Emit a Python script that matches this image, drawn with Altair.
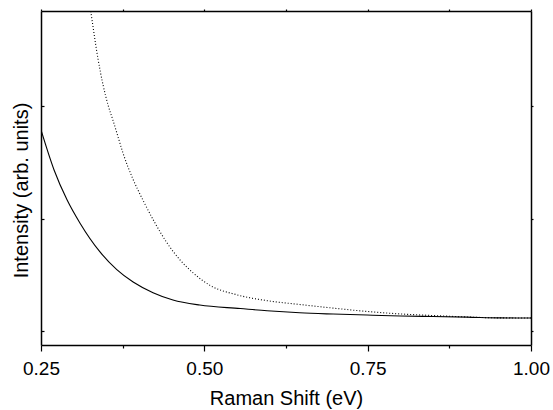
import altair as alt
import pandas as pd

# Solid curve (Raman shift in eV, intensity arb. units)
solid_x = [0.25, 0.27, 0.29, 0.31, 0.34, 0.366, 0.391, 0.4215, 0.452, 0.493,
           0.555, 0.596, 0.646, 0.697, 0.749, 0.80, 0.85, 0.902, 0.953, 1.00]
solid_y = [1.787, 1.431, 1.164, 0.956, 0.705, 0.546, 0.436, 0.341, 0.276, 0.231,
           0.200, 0.180, 0.162, 0.151, 0.142, 0.134, 0.129, 0.124, 0.117, 0.116]

# Dotted curve
dotted_x = [0.322, 0.3265, 0.337, 0.345, 0.3526, 0.36, 0.368, 0.3755, 0.39,
            0.406, 0.4245, 0.443, 0.463, 0.483, 0.509, 0.55, 0.596, 0.646,
            0.697, 0.749, 0.80, 0.85, 0.902, 0.953, 1.00]
dotted_y = [3.0, 2.827, 2.427, 2.187, 2.009, 1.876, 1.724, 1.582, 1.36,
            1.164, 0.96, 0.782, 0.631, 0.516, 0.405, 0.322, 0.270, 0.236,
            0.204, 0.174, 0.152, 0.138, 0.125, 0.117, 0.116]

x_major = [0.25, 0.50, 0.75, 1.00]
x_minor = [0.375, 0.625, 0.875]
x_all = [0.25, 0.375, 0.50, 0.625, 0.75, 0.875, 1.00]
y_ticks = [0, 1, 2]

solid = pd.DataFrame({"x": solid_x, "y": solid_y})
dotted = pd.DataFrame({"x": dotted_x, "y": dotted_y})

FONT = "Liberation Sans"
W, H = 490, 334
xscale = alt.Scale(domain=[0.25, 1.0], nice=False, zero=False)
yscale = alt.Scale(domain=[-0.124, 2.844], nice=False, zero=False)

common_axis = dict(domainColor="black", tickColor="black", domainWidth=1.5,
                   tickWidth=1.2, grid=False)

solid_line = alt.Chart(solid).mark_line(color="black", strokeWidth=1.1, clip=True,
                                        interpolate="monotone").encode(
    x=alt.X("x:Q", scale=xscale, axis=alt.Axis(
        orient="bottom", values=x_major, tickSize=6, format=".2f",
        labelFont=FONT, labelFontSize=19, labelColor="black", labelPadding=8,
        labelFlush=False, labelOverlap=False,
        title="Raman Shift (eV)", titleFont=FONT, titleFontSize=20,
        titleFontWeight="normal", titleColor="black",
        titleBaseline="alphabetic", titleY=59.5, **common_axis)),
    y=alt.Y("y:Q", scale=yscale, axis=alt.Axis(
        orient="left", ticks=False, labels=False,
        title="Intensity (arb. units)", titleFont=FONT, titleFontSize=20,
        titleFontWeight="normal", titleColor="black",
        titleBaseline="alphabetic", titleX=-13.5, titleY=179,
        titleAngle=270, titleAlign="center", **common_axis)),
)

dotted_line = alt.Chart(dotted).mark_line(color="black", strokeWidth=1.1,
                                          strokeDash=[1, 2], clip=True,
                                          interpolate="monotone").encode(
    x=alt.X("x:Q", scale=xscale, axis=alt.Axis(
        orient="bottom", values=x_minor, tickSize=3, labels=False,
        domain=False, title=None, **common_axis)),
    y=alt.Y("y:Q", scale=yscale, axis=alt.Axis(
        orient="right", offset=-W, values=y_ticks, tickSize=3, labels=False,
        domain=False, title=None, **common_axis)),
)

frame = alt.Chart(solid).mark_point(opacity=0, clip=True).encode(
    x=alt.X("x:Q", scale=xscale, axis=alt.Axis(
        orient="top", values=x_all, tickSize=2, labels=False, title=None,
        **common_axis)),
    y=alt.Y("y:Q", scale=yscale, axis=alt.Axis(
        orient="right", values=y_ticks, tickSize=2, labels=False, title=None,
        **common_axis)),
)

chart = alt.layer(solid_line, dotted_line, frame).resolve_axis(
    x="independent", y="independent"
).properties(
    width=W, height=H,
    autosize=alt.AutoSizeParams(type="none"),
    padding={"left": 41, "top": 11, "right": 22, "bottom": 65},
    background="white",
).configure_view(stroke=None)

chart.save("out.html", embed_options={"renderer": "svg", "actions": False})
